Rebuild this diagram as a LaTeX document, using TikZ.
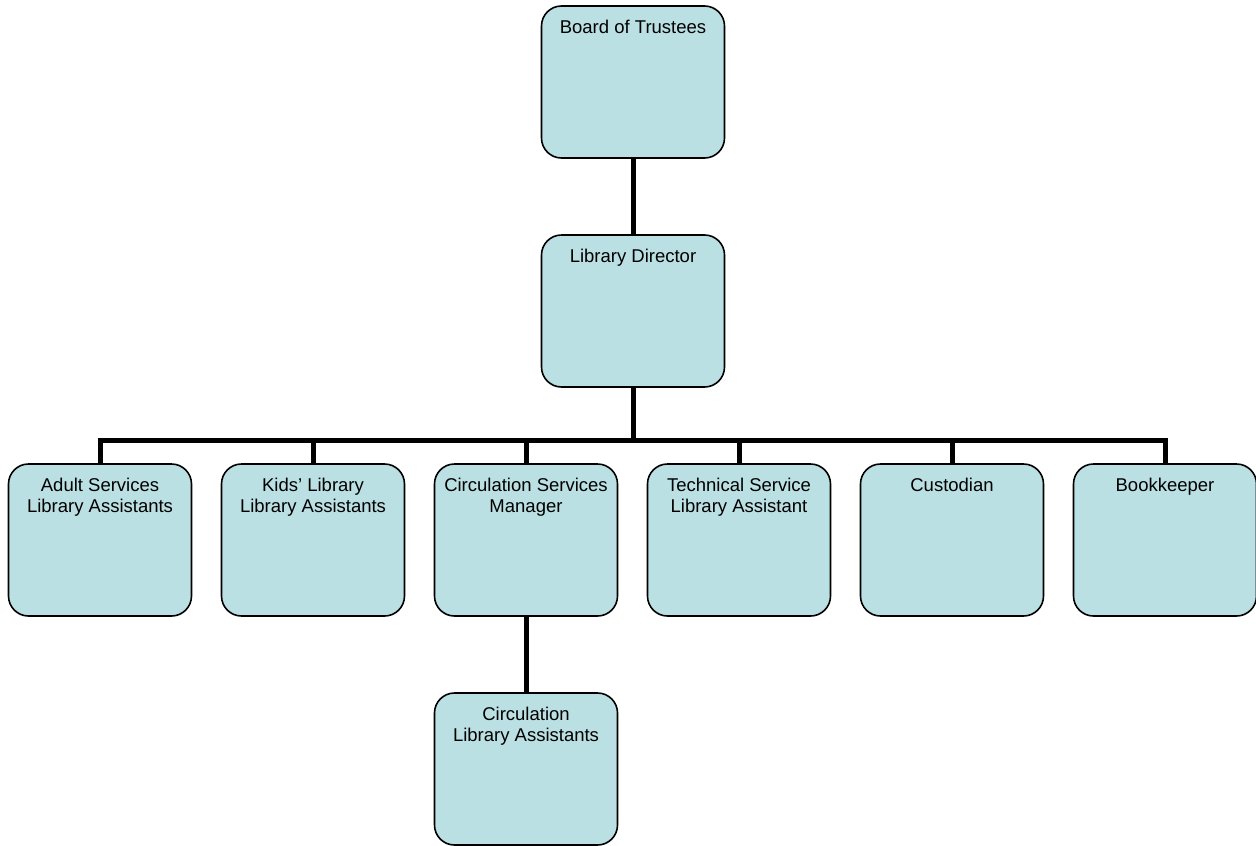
\documentclass[tikz,border=0pt]{standalone}
\usepackage{fontspec}
\setmainfont{Liberation Sans}
\definecolor{boxfill}{RGB}{187,224,227}
\begin{document}
\begin{tikzpicture}[x=1pt,y=-1pt,
  orgbox/.style={draw=black, line width=1.6pt, fill=boxfill, rounded corners=20pt,
    minimum width=183pt, minimum height=152pt, inner sep=0pt},
  lbl/.style={anchor=north, yshift=-14.5pt, align=center, inner sep=0pt,
    font=\fontsize{18.5}{21}\selectfont},
  conn/.style={line width=5pt, draw=black, line join=miter}]
\useasboundingbox (0,0) rectangle (1256,846);
\node[orgbox, label={[lbl]north:Board of Trustees}] (board) at (633,82) {};
\node[orgbox, label={[lbl]north:Library Director}] (dir) at (633,311) {};
\node[orgbox, label={[lbl]north:Adult Services\\Library Assistants}] (adult) at (100,540) {};
\node[orgbox, label={[lbl]north:Kids’ Library\\Library Assistants}] (kids) at (313,540) {};
\node[orgbox, label={[lbl]north:Circulation Services\\Manager}] (circ) at (526,540) {};
\node[orgbox, label={[lbl]north:Technical Service\\Library Assistant}] (tech) at (739,540) {};
\node[orgbox, label={[lbl]north:Custodian}] (cust) at (952,540) {};
\node[orgbox, label={[lbl]north:Bookkeeper}] (book) at (1165,540) {};
\node[orgbox, label={[lbl]north:Circulation\\Library Assistants}] (circla) at (526,769) {};
\coordinate (barc) at (0,440);
\draw[conn] (board.south) -- (dir.north);
\draw[conn] (dir.south) -- (dir.south |- barc);
\draw[conn] (adult.north) -- (adult.north |- barc) -- (book.north |- barc) -- (book.north);
\draw[conn] (kids.north) -- (kids.north |- barc);
\draw[conn] (circ.north) -- (circ.north |- barc);
\draw[conn] (tech.north) -- (tech.north |- barc);
\draw[conn] (cust.north) -- (cust.north |- barc);
\draw[conn] (circ.south) -- (circla.north);
\end{tikzpicture}
\end{document}
